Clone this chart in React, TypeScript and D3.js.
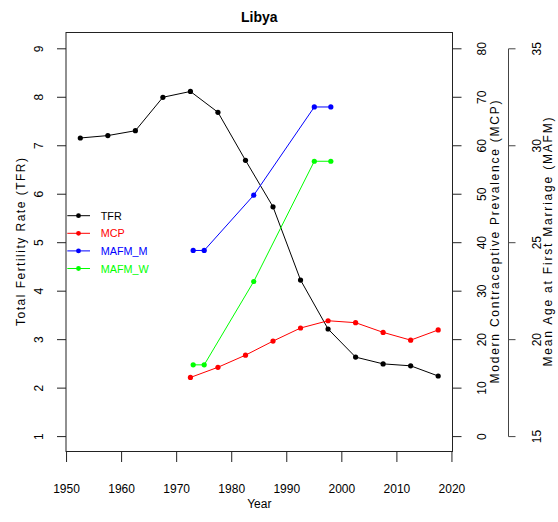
import React from 'react';
import * as d3 from 'd3';

const title = 'Libya';
const tfrYears = [1952.5, 1957.5, 1962.5, 1967.5, 1972.5, 1977.5, 1982.5, 1987.5, 1992.5, 1997.5, 2002.5, 2007.5, 2012.5, 2017.5];
const tfrValues = [7.16, 7.21, 7.31, 8.0, 8.12, 7.69, 6.7, 5.74, 4.23, 3.22, 2.64, 2.5, 2.46, 2.25];
const mcpYears = [1972.5, 1977.5, 1982.5, 1987.5, 1992.5, 1997.5, 2002.5, 2007.5, 2012.5, 2017.5];
const mcpValues = [12.2, 14.3, 16.8, 19.7, 22.4, 23.9, 23.5, 21.5, 19.9, 22.0];
const mafmYears = [1973, 1975, 1984, 1995, 1998];
const mafmMen = [24.6, 24.6, 27.45, 32.0, 32.0];
const mafmWomen = [18.7, 18.7, 23.0, 29.2, 29.2];
const xTicks = [1950, 1960, 1970, 1980, 1990, 2000, 2010, 2020];
const tfrTicks = [1, 2, 3, 4, 5, 6, 7, 8, 9];
const mcpTicks = [0, 10, 20, 30, 40, 50, 60, 70, 80];
const mafmTicks = [15, 20, 25, 30, 35];
const legendLabels = ['TFR', 'MCP', 'MAFM_M', 'MAFM_W'];
const legendColors = ['#000000', '#ff0000', '#0000ff', '#00ff00'];

const FONT = '"Liberation Sans", Arial, sans-serif';

export default function App() {
  const box = { left: 66, right: 452.5, top: 32.5, bottom: 451.5 };
  const x = d3.scaleLinear().domain([1949.9, 2020.1]).range([box.left, box.right]);
  const yT = d3.scaleLinear().domain([1, 9]).range([436.6, 48.8]);
  const yM = d3.scaleLinear().domain([0, 80]).range([436.6, 48.8]);
  const yA = d3.scaleLinear().domain([15, 35]).range([436.6, 48.8]);

  const series = [
    { xs: tfrYears, vs: tfrValues, y: yT, color: legendColors[0] },
    { xs: mcpYears, vs: mcpValues, y: yM, color: legendColors[1] },
    { xs: mafmYears, vs: mafmMen, y: yA, color: legendColors[2] },
    { xs: mafmYears, vs: mafmWomen, y: yA, color: legendColors[3] },
  ];

  const mafmX = 508.5;

  return (
    <svg width={558} height={522} style={{ position: 'absolute', left: 0, top: 0, background: '#fff' }} fontFamily={FONT}>
      <rect x={0} y={0} width={558} height={522} fill="#fff" />
      <text x={(box.left + box.right) / 2} y={21.5} textAnchor="middle" fontWeight="bold" fontSize={14}>{title}</text>

      {series.map((s, i) => {
        const pts = s.xs.map((xv, j) => [x(xv), s.y(s.vs[j])] as [number, number]);
        const line = d3.line()(pts) || '';
        return (
          <g key={i}>
            <path d={line} fill="none" stroke={s.color} strokeWidth={1} />
            {pts.map((p, j) => <circle key={j} cx={p[0]} cy={p[1]} r={2.6} fill={s.color} />)}
          </g>
        );
      })}

      <rect x={box.left} y={box.top} width={box.right - box.left} height={box.bottom - box.top} fill="none" stroke="#222" strokeWidth={1} />

      {xTicks.map(t => (
        <g key={t}>
          <line x1={x(t)} x2={x(t)} y1={box.bottom} y2={462} stroke="#222" />
          <text x={x(t)} y={493} textAnchor="middle" fontSize={12}>{t}</text>
        </g>
      ))}
      <text x={(box.left + box.right) / 2} y={507.5} textAnchor="middle" fontSize={12}>Year</text>

      {tfrTicks.map(t => (
        <g key={t}>
          <line x1={57} x2={box.left} y1={yT(t)} y2={yT(t)} stroke="#222" />
          <text transform={`translate(39,${yT(t)}) rotate(-90)`} textAnchor="middle" dominantBaseline="central" fontSize={12}>{t}</text>
        </g>
      ))}
      <text transform={`translate(21,${(box.top + box.bottom) / 2}) rotate(-90)`} textAnchor="middle" dominantBaseline="central" fontSize={12} textLength={168} lengthAdjust="spacing">Total Fertility Rate (TFR)</text>

      {mcpTicks.map(t => (
        <g key={t}>
          <line x1={box.right} x2={461.5} y1={yM(t)} y2={yM(t)} stroke="#222" />
          <text transform={`translate(481.7,${yM(t)}) rotate(-90)`} textAnchor="middle" dominantBaseline="central" fontSize={12}>{t}</text>
        </g>
      ))}
      <text transform={`translate(495,${(box.top + box.bottom) / 2}) rotate(-90)`} textAnchor="middle" dominantBaseline="central" fontSize={12} textLength={283} lengthAdjust="spacing">Modern Contraceptive Prevalence (MCP)</text>

      <line x1={mafmX} x2={mafmX} y1={yA(15)} y2={yA(35)} stroke="#444" />
      {mafmTicks.map(t => (
        <g key={t}>
          <line x1={mafmX} x2={515.5} y1={yA(t)} y2={yA(t)} stroke="#444" />
          <text transform={`translate(537,${yA(t)}) rotate(-90)`} textAnchor="middle" dominantBaseline="central" fontSize={12}>{t}</text>
        </g>
      ))}
      <text transform={`translate(548,${(box.top + box.bottom) / 2}) rotate(-90)`} textAnchor="middle" dominantBaseline="central" fontSize={12} textLength={249} lengthAdjust="spacing">Mean Age at First Marriage (MAFM)</text>

      {legendLabels.map((lab, i) => {
        const yy = 215.7 + i * 17.6;
        return (
          <g key={lab}>
            <line x1={67.3} x2={90} y1={yy} y2={yy} stroke={legendColors[i]} />
            <circle cx={78.5} cy={yy} r={2.4} fill={legendColors[i]} />
            <text x={100.7} y={yy} dominantBaseline="central" fontSize={10.8} fill={legendColors[i]}>{lab}</text>
          </g>
        );
      })}
    </svg>
  );
}
